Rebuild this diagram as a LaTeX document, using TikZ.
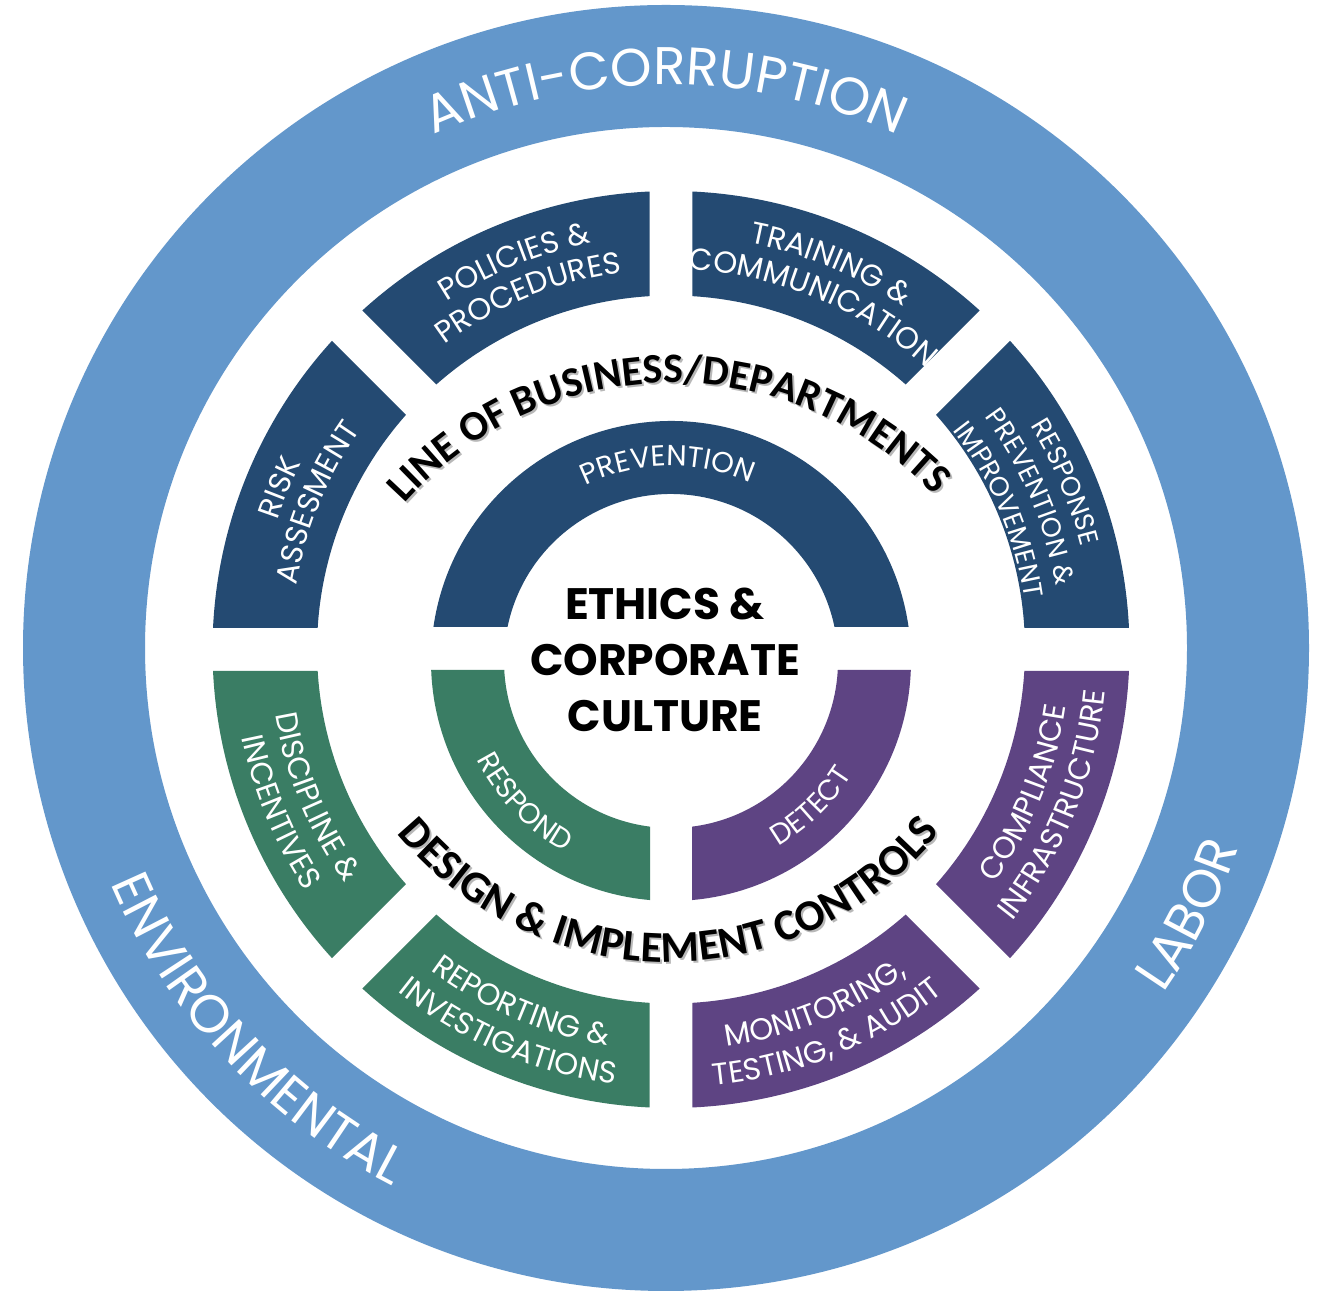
\documentclass[tikz,border=0pt]{standalone}
\usepackage{fontspec}
\setmainfont{Poppins}
\newfontfamily\popf{Poppins}
\newfontfamily\carf{Carlito}
\usetikzlibrary{decorations.text}
\definecolor{ringblue}{RGB}{99,151,203}
\definecolor{navy}{RGB}{36,74,114}
\definecolor{sgreen}{RGB}{58,125,100}
\definecolor{spurple}{RGB}{94,68,131}
\newcommand\labfmt{\color{white}\popf\fontsize{30.5}{30.5}\selectfont}
\newcommand\labsm{\color{white}\popf\fontsize{27}{27}\selectfont}
\newcommand\inlfmt{\color{white}\popf\fontsize{29}{29}\selectfont}
\newcommand\outfmt{\color{white}\popf\fontsize{53}{53}\selectfont}
\newcommand\blkfmt{\color{black}\carf\bfseries\fontsize{42}{42}\selectfont}
\newcommand\shdfmt{\color{black!28}\carf\bfseries\fontsize{42}{42}\selectfont}
\newcommand\blkfmtb{\color{black}\carf\bfseries\fontsize{44}{44}\selectfont}
\newcommand\shdfmtb{\color{black!28}\carf\bfseries\fontsize{44}{44}\selectfont}
\newcommand\gh{21.5}
% ring segment: color, center, r in, r out, a1, a2
\newcommand\ringseg[6]{%
  \pgfmathsetmacro\sgO{asin(\gh/#4)}\pgfmathsetmacro\sgI{asin(\gh/#3)}%
  \pgfmathsetmacro\sgA{#5+\sgO}\pgfmathsetmacro\sgB{#6-\sgO}%
  \pgfmathsetmacro\sgC{#6-\sgI}\pgfmathsetmacro\sgD{#5+\sgI}%
  \fill[#1] ([shift={(#2)}]\sgA:#4) arc[start angle=\sgA,end angle=\sgB,radius=#4]
    -- ([shift={(#2)}]\sgC:#3) arc[start angle=\sgC,end angle=\sgD,radius=#3] -- cycle;}
% text along arc, tops outward: center, radius, mid angle, half span, format, text
\newcommand\txtcw[6]{%
  \pgfmathsetmacro\tA{#3+#4}\pgfmathsetmacro\tB{#3-#4}%
  \path[decorate,decoration={text along path,text align=center,text={|#5|#6}}]
    ([shift={(#1)}]\tA:#2) arc[start angle=\tA,end angle=\tB,radius=#2];}
% text along arc, tops inward
\newcommand\txtccw[6]{%
  \pgfmathsetmacro\tA{#3-#4}\pgfmathsetmacro\tB{#3+#4}%
  \path[decorate,decoration={text along path,text align=center,text={|#5|#6}}]
    ([shift={(#1)}]\tA:#2) arc[start angle=\tA,end angle=\tB,radius=#2];}
\begin{document}
\begin{tikzpicture}[x=1pt,y=1pt]
\useasboundingbox (0,0) rectangle (1334,1293);
\fill[white] (0,0) rectangle (1334,1293);
\coordinate (O) at (666,645);
\coordinate (M) at (671,643.5);
\coordinate (I) at (671,632);
\coordinate (LC) at (673,550);
\coordinate (LCs) at (675,548);
\coordinate (DC) at (668,681);
\coordinate (DCs) at (670,679);
% outer ring
\fill[ringblue,even odd rule] (O) circle[radius=643] (O) circle[radius=521];
% middle ring
\ringseg{navy}{M}{354}{458.5}{135}{180}
\ringseg{navy}{M}{354}{458.5}{90}{135}
\ringseg{navy}{M}{354}{458.5}{45}{90}
\ringseg{navy}{M}{354}{458.5}{0}{45}
\ringseg{sgreen}{M}{354}{458.5}{180}{225}
\ringseg{sgreen}{M}{354}{458.5}{225}{270}
\ringseg{spurple}{M}{354}{458.5}{270}{315}
\ringseg{spurple}{M}{354}{458.5}{315}{360}
% inner ring
\pgfmathsetmacro\pa{asin(34/240)}\pgfmathsetmacro\pA{180-\pa}
\pgfmathsetmacro\pb{asin(34/167)}\pgfmathsetmacro\pB{180-\pb}
\fill[navy] ([shift={(I)}]\pa:240) arc[start angle=\pa,end angle=\pA,radius=240]
  -- ([shift={(I)}]\pB:167) arc[start angle=\pB,end angle=\pb,radius=167] -- cycle;
\pgfmathsetmacro\ra{180+asin(9/240)}\pgfmathsetmacro\rA{270-asin(21/240)}
\pgfmathsetmacro\rb{270-asin(21/167)}\pgfmathsetmacro\rB{180+asin(9/167)}
\fill[sgreen] ([shift={(I)}]\ra:240) arc[start angle=\ra,end angle=\rA,radius=240]
  -- ([shift={(I)}]\rb:167) arc[start angle=\rb,end angle=\rB,radius=167] -- cycle;
\pgfmathsetmacro\da{270+asin(21/240)}\pgfmathsetmacro\dA{360-asin(9/240)}
\pgfmathsetmacro\db{360-asin(9/167)}\pgfmathsetmacro\dB{270+asin(21/167)}
\fill[spurple] ([shift={(I)}]\da:240) arc[start angle=\da,end angle=\dA,radius=240]
  -- ([shift={(I)}]\db:167) arc[start angle=\db,end angle=\dB,radius=167] -- cycle;
% outer ring texts
\txtcw{O}{563}{90}{60}{\outfmt}{ANTI-CORRUPTION}
\txtccw{O}{603}{223}{45}{\outfmt}{ENVIRONMENTAL}
\txtccw{O}{606}{333}{30}{\outfmt}{LABOR}
% middle ring labels
\txtcw{M}{414}{157.5}{60}{\labfmt}{RISK}
\txtcw{M}{380}{157.5}{60}{\labfmt}{ASSESMENT}
\txtcw{M}{414}{112}{60}{\labfmt}{POLICIES {\&}}
\txtcw{M}{380}{112}{60}{\labfmt}{PROCEDURES}
\txtcw{M}{414}{67.5}{60}{\labfmt}{TRAINING {\&}}
\txtcw{M}{380}{67.5}{60}{\labfmt}{COMMUNICATION}
\txtcw{M}{423}{23}{60}{\labsm}{RESPONSE}
\txtcw{M}{390}{23}{60}{\labsm}{PREVENTION {\&}}
\txtcw{M}{357}{23}{60}{\labsm}{IMPROVEMENT}
\txtccw{M}{401}{202.5}{60}{\labfmt}{DISCIPLINE {\&}}
\txtccw{M}{438}{202.5}{60}{\labfmt}{INCENTIVES}
\txtccw{M}{401}{247}{60}{\labfmt}{REPORTING {\&}}
\txtccw{M}{438}{247}{60}{\labfmt}{INVESTIGATIONS}
\txtccw{M}{401}{292}{60}{\labfmt}{MONITORING,}
\txtccw{M}{438}{292}{60}{\labfmt}{TESTING, {\&} AUDIT}
\txtccw{M}{399}{338}{60}{\labfmt}{COMPLIANCE}
\txtccw{M}{436}{338}{60}{\labfmt}{INFRASTRUCTURE}
% inner ring labels
\txtcw{I}{195}{91}{80}{\inlfmt}{PREVENTION}
\txtccw{I}{218}{224}{60}{\inlfmt}{RESPOND}
\txtccw{I}{214}{314}{60}{\inlfmt}{DETECT}
% black arc texts with shadow
\txtcw{LCs}{360}{90.8}{80}{\shdfmt}{LINE OF BUSINESS/DEPARTMENTS}
\txtcw{LC}{360}{90.8}{80}{\blkfmt}{LINE OF BUSINESS/DEPARTMENTS}
\txtccw{DCs}{350}{270.2}{80}{\shdfmtb}{DESIGN {\&} IMPLEMENT CONTROLS}
\txtccw{DC}{350}{270.2}{80}{\blkfmtb}{DESIGN {\&} IMPLEMENT CONTROLS}
% center
\node[font=\popf\bfseries\fontsize{44}{56}\selectfont,align=center] (ctr) at (665,633)
  {ETHICS \&\\CORPORATE\\CULTURE};
\end{tikzpicture}
\end{document}
